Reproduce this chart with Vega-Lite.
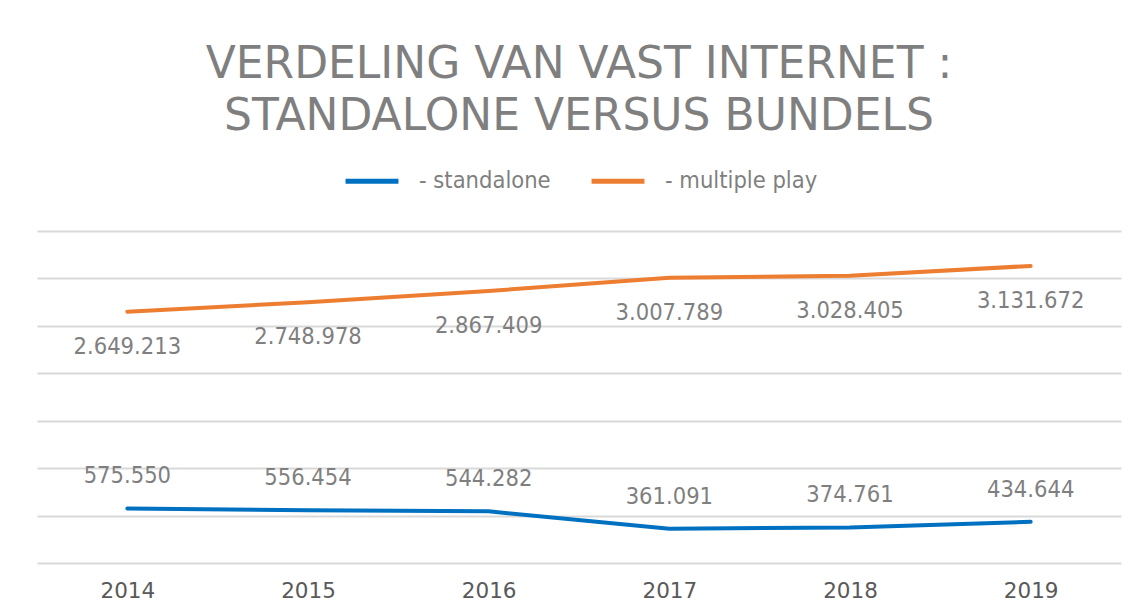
{
  "$schema": "https://vega.github.io/schema/vega-lite/v6.json",
  "autosize": "none",
  "width": 1084,
  "height": 332,
  "padding": {"left": 37, "top": 231, "right": 15, "bottom": 49},
  "background": "white",
  "title": {
    "text": ["VERDELING VAN VAST INTERNET :", "STANDALONE VERSUS BUNDELS"],
    "font": "DejaVu Sans",
    "fontSize": 44,
    "fontWeight": "normal",
    "color": "#7f7f7f",
    "lineHeight": 52,
    "anchor": "middle",
    "offset": 13
  },
  "data": {
    "values": [
      {"year": "2014", "series": "- standalone", "value": 575550, "label": "575.550"},
      {"year": "2015", "series": "- standalone", "value": 556454, "label": "556.454"},
      {"year": "2016", "series": "- standalone", "value": 544282, "label": "544.282"},
      {"year": "2017", "series": "- standalone", "value": 361091, "label": "361.091"},
      {"year": "2018", "series": "- standalone", "value": 374761, "label": "374.761"},
      {"year": "2019", "series": "- standalone", "value": 434644, "label": "434.644"},
      {"year": "2014", "series": "- multiple play", "value": 2649213, "label": "2.649.213"},
      {"year": "2015", "series": "- multiple play", "value": 2748978, "label": "2.748.978"},
      {"year": "2016", "series": "- multiple play", "value": 2867409, "label": "2.867.409"},
      {"year": "2017", "series": "- multiple play", "value": 3007789, "label": "3.007.789"},
      {"year": "2018", "series": "- multiple play", "value": 3028405, "label": "3.028.405"},
      {"year": "2019", "series": "- multiple play", "value": 3131672, "label": "3.131.672"}
    ]
  },
  "encoding": {
    "x": {
      "field": "year",
      "type": "ordinal",
      "scale": {"type": "point", "padding": 0.5},
      "axis": {
        "title": null,
        "domain": false,
        "ticks": false,
        "labelAngle": 0,
        "labelFont": "DejaVu Sans",
        "labelFontSize": 21.5,
        "labelColor": "#595959",
        "labelPadding": 17
      }
    },
    "y": {
      "field": "value",
      "type": "quantitative",
      "scale": {"domain": [0, 3500000]},
      "axis": {
        "title": null,
        "labels": false,
        "ticks": false,
        "domain": false,
        "values": [0, 500000, 1000000, 1500000, 2000000, 2500000, 3000000, 3500000],
        "gridColor": "#d9d9d9",
        "gridWidth": 2
      }
    }
  },
  "layer": [
    {
      "mark": {"type": "line", "strokeWidth": 4, "strokeCap": "round"},
      "encoding": {
        "color": {
          "field": "series",
          "type": "nominal",
          "scale": {"domain": ["- standalone", "- multiple play"], "range": ["#0070C0", "#ED7D31"]},
          "legend": {
            "title": null,
            "orient": "none",
            "direction": "horizontal",
            "legendX": 306,
            "legendY": -79,
            "symbolType": "stroke",
            "symbolSize": 2800,
            "symbolStrokeWidth": 5,
            "labelFont": "DejaVu Sans Condensed",
            "labelFontSize": 23.5,
            "labelColor": "#7f7f7f",
            "labelOffset": 18,
            "columnPadding": 30,
            "labelLimit": 300,
            "padding": 0
          }
        }
      }
    },
    {
      "transform": [{"filter": "datum.series === '- standalone'"}],
      "mark": {"type": "text", "dy": -32, "font": "DejaVu Sans Condensed", "fontSize": 23.5, "color": "#7f7f7f", "baseline": "middle"},
      "encoding": {"text": {"field": "label"}}
    },
    {
      "transform": [{"filter": "datum.series === '- multiple play'"}],
      "mark": {"type": "text", "dy": 35, "font": "DejaVu Sans Condensed", "fontSize": 23.5, "color": "#7f7f7f", "baseline": "middle"},
      "encoding": {"text": {"field": "label"}}
    }
  ],
  "config": {
    "view": {"stroke": null}
  }
}
